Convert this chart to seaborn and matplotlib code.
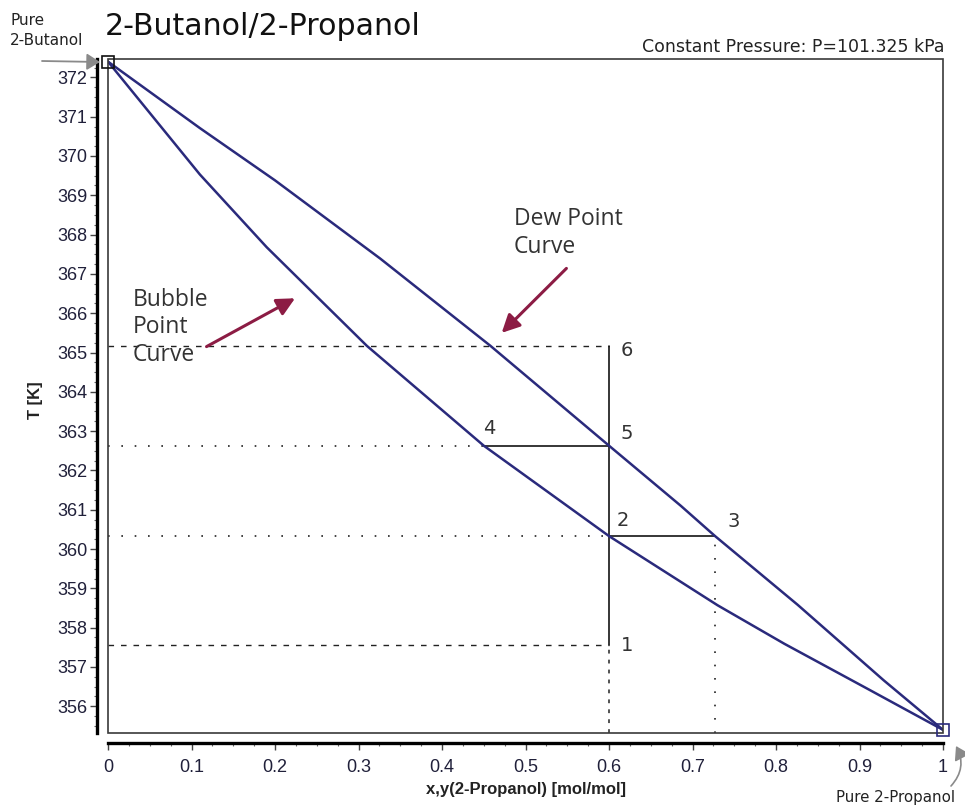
import matplotlib
matplotlib.use("Agg")
import matplotlib.pyplot as plt
import pandas as pd
import seaborn as sns
from matplotlib.patches import Rectangle, FancyArrowPatch
from matplotlib.ticker import MultipleLocator

# T-x-y diagram of 2-butanol / 2-propanol at 1 atm (x = mole fraction 2-propanol)
x_bubble = [0.0, 0.11, 0.19, 0.31, 0.45, 0.60, 0.73, 0.81, 0.91, 1.0]
T_bubble = [372.40, 369.53, 367.68, 365.17, 362.63, 360.33, 358.57, 357.59, 356.44, 355.40]
x_dew = [0.0, 0.11, 0.20, 0.326, 0.458, 0.60, 0.686, 0.727, 0.826, 0.929, 1.0]
T_dew = [372.40, 370.71, 369.38, 367.39, 365.17, 362.63, 361.10, 360.33, 358.58, 356.66, 355.40]

# numbered state points
state_labels = ["1", "2", "3", "4", "5", "6"]
state_x = [0.6, 0.6, 0.727, 0.45, 0.6, 0.6]
state_T = [357.55, 360.33, 360.33, 362.63, 362.63, 365.17]

x_ticks = [0.0, 0.1, 0.2, 0.3, 0.4, 0.5, 0.6, 0.7, 0.8, 0.9, 1.0]
x_tick_labels = ["0", "0.1", "0.2", "0.3", "0.4", "0.5", "0.6", "0.7", "0.8", "0.9", "1"]
T_ticks = list(range(356, 373))

title = "2-Butanol/2-Propanol"
subtitle = "Constant Pressure: P=101.325 kPa"

NAVY = "#2a2a7c"
MAROON = "#8c1c44"
GREY = "#8a8a8a"

sns.set_theme(style="ticks")
plt.rcParams["font.family"] = ["DejaVu Sans"]

W, H = 965, 809
fig = plt.figure(figsize=(W / 100, H / 100), dpi=100)
ax = fig.add_axes([108 / W, 76 / H, 835 / W, 674.5 / H])

ax.set_xlim(0, 1)
ax.set_ylim(355.32, 372.48)

curves = pd.concat([
    pd.DataFrame({"x": x_bubble, "T": T_bubble, "curve": "bubble"}),
    pd.DataFrame({"x": x_dew, "T": T_dew, "curve": "dew"}),
])
sns.lineplot(data=curves, x="x", y="T", hue="curve",
             palette={"bubble": NAVY, "dew": NAVY}, sort=False,
             estimator=None, lw=1.8, legend=False, ax=ax, zorder=4)

# end-point markers (pure components)
ax.plot(x_bubble[0], T_bubble[0], marker="s", ms=9, mfc="none", mec="#111111",
        mew=1.2, clip_on=False, zorder=6)
ax.plot(x_bubble[-1], T_bubble[-1], marker="s", ms=9, mfc="none", mec=NAVY,
        mew=1.2, clip_on=False, zorder=6)

p1, p2, p3, p4, p5, p6 = zip(state_x, state_T)
ymin = ax.get_ylim()[0]
solid = dict(color="black", lw=1.1, zorder=3)
dashed = dict(color="#222222", lw=1.0, ls=(0, (4, 5)), zorder=2)
dotted = dict(color="#222222", lw=1.2, ls=(0, (1, 7)), zorder=2)

# vertical heating path 1 -> 6 and tie lines
ax.plot([p1[0], p6[0]], [p1[1], p6[1]], **solid)
ax.plot([p2[0], p3[0]], [p2[1], p3[1]], **solid)
ax.plot([p4[0], p5[0]], [p4[1], p5[1]], **solid)
# guide lines to the axes
ax.plot([0, p6[0]], [p6[1], p6[1]], **dashed)
ax.plot([0, p1[0]], [p1[1], p1[1]], **dashed)
ax.plot([0, p4[0]], [p4[1], p4[1]], **dotted)
ax.plot([0, p2[0]], [p2[1], p2[1]], **dotted)
ax.plot([p1[0], p1[0]], [ymin, p1[1]], color="#222222", lw=1.1,
        ls=(0, (2.5, 4)), zorder=2)
ax.plot([p3[0], p3[0]], [ymin, p3[1]], **dotted)

offsets_px = [(18, 0), (14, 16), (19, 15), (5, 17), (18, 12), (18, -5)]
for lab, xs, ts, (dx, dy) in zip(state_labels, state_x, state_T, offsets_px):
    ax.annotate(lab, (xs, ts), xytext=(dx * 0.72, dy * 0.72),
                textcoords="offset points", ha="center", va="center",
                fontsize=14, color="#333333")

# plot frame and offset axis lines
ax.add_patch(Rectangle((0, 0), 1, 1, transform=ax.transAxes, fill=False,
                       ec="#3a3a3a", lw=1.2, clip_on=False, zorder=5))
for s in ("top", "right"):
    ax.spines[s].set_visible(False)
ax.spines["left"].set_position(("outward", 8))
ax.spines["bottom"].set_position(("outward", 7.5))
for s in ("left", "bottom"):
    ax.spines[s].set_linewidth(2.4)
    ax.spines[s].set_color("black")

ax.set_xticks(x_ticks)
ax.set_xticklabels(x_tick_labels)
ax.set_yticks(T_ticks)
ax.xaxis.set_minor_locator(MultipleLocator(0.025))
ax.yaxis.set_minor_locator(MultipleLocator(0.25))
ax.tick_params(axis="both", which="major", direction="out", width=1.0,
               color="#444444", labelcolor="#20203a", labelsize=13)
ax.tick_params(axis="x", which="major", length=5, pad=6)
ax.tick_params(axis="y", which="major", length=5, pad=2)
ax.tick_params(axis="both", which="minor", direction="out", length=2.5,
               width=0.8, color="#666666")
for t in ax.get_xticklabels() + ax.get_yticklabels():
    t.set_fontfamily("Liberation Sans")

ax.set_xlabel("x,y(2-Propanol) [mol/mol]", fontsize=12, fontweight="bold",
              family="Liberation Sans", color="#222222")
ax.set_ylabel("T [K]", fontsize=12, fontweight="bold",
              family="Liberation Sans", color="#222222")
ax.xaxis.set_label_coords(0.5, -0.084)
ax.xaxis.label.set_va("center")
ax.yaxis.set_label_coords(-0.087, 0.493)
ax.yaxis.label.set_va("center")

# titles
fig.text(105 / W, 1 - 35 / H, title, fontsize=21.6, color="#111111",
         va="baseline", ha="left")
fig.text(945 / W, 1 - 52 / H, subtitle, fontsize=12.5, color="#222222",
         va="baseline", ha="right")

# curve call-outs
ax.text(0.486, 368.70, "Dew Point\nCurve", family="Open Sans", fontsize=16.5,
        color="#333333", va="top", ha="left", linespacing=1.22)
ax.text(0.03, 366.64, "Bubble\nPoint\nCurve", family="Open Sans", fontsize=16.5,
        color="#333333", va="top", ha="left", linespacing=1.18)
ax.annotate("", xy=(0.4715, 365.50), xytext=(0.549, 367.14),
            arrowprops=dict(arrowstyle="-|>,head_length=0.9,head_width=0.45",
                            color=MAROON, lw=2.2, shrinkA=0, shrinkB=0))
ax.annotate("", xy=(0.224, 366.38), xytext=(0.118, 365.15),
            arrowprops=dict(arrowstyle="-|>,head_length=0.9,head_width=0.45",
                            color=MAROON, lw=2.2, shrinkA=0, shrinkB=0))

# pure component labels
fig.text(10 / W, 1 - 45 / H, "Pure\n2-Butanol", fontsize=11, color="#222222",
         va="baseline", ha="left", linespacing=1.45)
fig.add_artist(FancyArrowPatch((42 / W, 1 - 61 / H), (100 / W, 1 - 62 / H),
                               transform=fig.transFigure,
                               arrowstyle="-|>,head_length=8,head_width=5",
                               color=GREY, lw=1.3, shrinkA=0, shrinkB=0))
fig.text(955 / W, 1 - 802 / H, "Pure 2-Propanol", fontsize=10.8,
         color="#222222", va="baseline", ha="right")
fig.add_artist(FancyArrowPatch((951 / W, 1 - 786 / H), (956 / W, 1 - 746 / H),
                               transform=fig.transFigure,
                               connectionstyle="arc3,rad=0.35",
                               arrowstyle="-|>,head_length=8,head_width=5",
                               color=GREY, lw=1.2, shrinkA=0, shrinkB=0))

fig.savefig("out.png", dpi=100, facecolor="white")
